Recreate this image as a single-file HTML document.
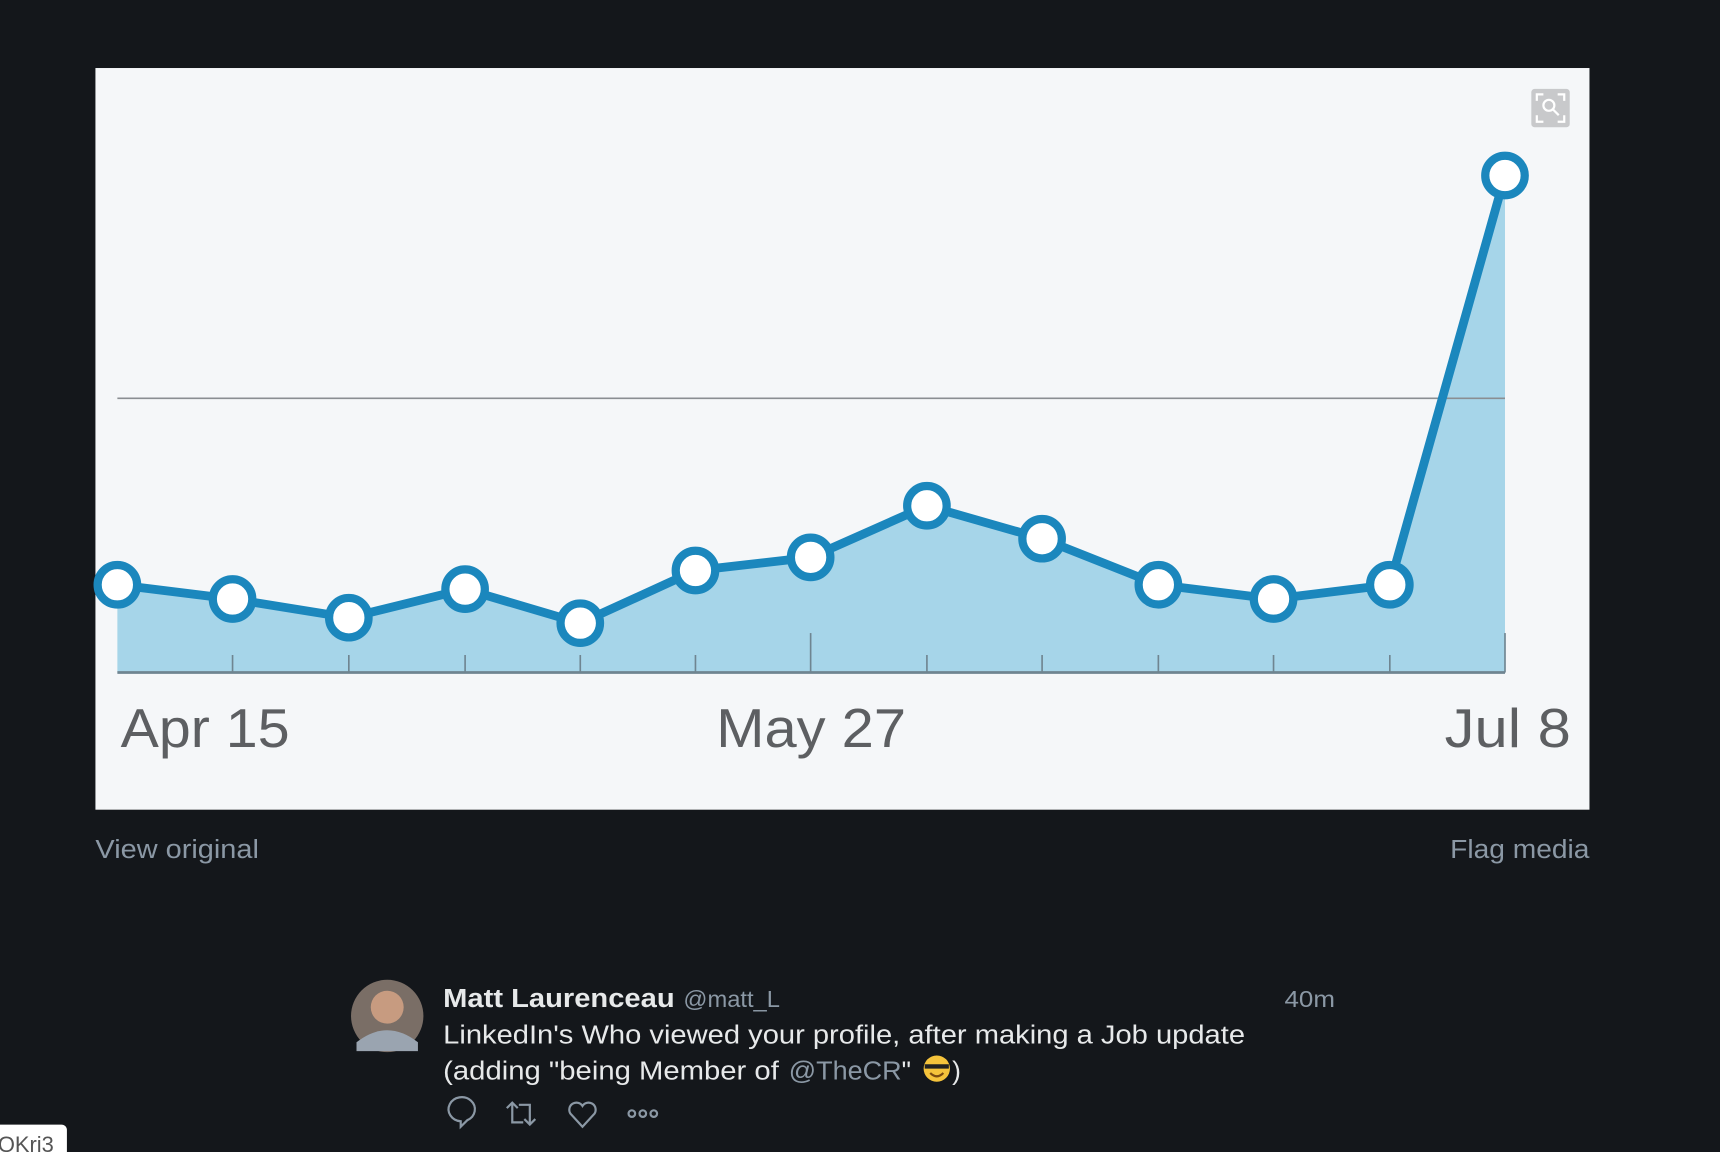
<!DOCTYPE html>
<html><head><meta charset="utf-8"><style>
html,body{margin:0;padding:0;background:#14171b;width:1720px;height:1152px;overflow:hidden}
svg{display:block}
</style></head><body>
<svg width="1720" height="1152" viewBox="0 0 1568 1050" preserveAspectRatio="none" xmlns="http://www.w3.org/2000/svg">
<rect x="0" y="0" width="1568" height="1050" fill="#14171b"/>
<rect x="87" y="62" width="1362" height="676" fill="#f5f7f9"/>
<polygon fill="#a6d5e9" points="107,613 107,533 212,546 318,563 424,537 529,568 634,520 739,508 845,461 950,491 1056,533 1161,546 1267,533 1372,160 1372,613"/>
<line x1="107" y1="363" x2="1372" y2="363" stroke="#8a8e92" stroke-width="1.5"/>
<g stroke="#6f8591" stroke-width="1.5">
<line x1="107" y1="613" x2="1372" y2="613" stroke-width="2.5"/>
<line x1="212" y1="597" x2="212" y2="613"/><line x1="318" y1="597" x2="318" y2="613"/>
<line x1="424" y1="597" x2="424" y2="613"/><line x1="529" y1="597" x2="529" y2="613"/>
<line x1="634" y1="597" x2="634" y2="613"/><line x1="739" y1="577" x2="739" y2="613"/>
<line x1="845" y1="597" x2="845" y2="613"/><line x1="950" y1="597" x2="950" y2="613"/>
<line x1="1056" y1="597" x2="1056" y2="613"/><line x1="1161" y1="597" x2="1161" y2="613"/>
<line x1="1267" y1="597" x2="1267" y2="613"/><line x1="1372" y1="577" x2="1372" y2="613"/>
</g>
<polyline fill="none" stroke="#1b87bd" stroke-width="8" stroke-linejoin="round" points="107,533 212,546 318,563 424,537 529,568 634,520 739,508 845,461 950,491 1056,533 1161,546 1267,533 1372,160"/>
<g fill="#fff" stroke="#1b87bd" stroke-width="7.5">
<circle cx="107" cy="533" r="18"/><circle cx="212" cy="546" r="18"/><circle cx="318" cy="563" r="18"/>
<circle cx="424" cy="537" r="18"/><circle cx="529" cy="568" r="18"/><circle cx="634" cy="520" r="18"/>
<circle cx="739" cy="508" r="18"/><circle cx="845" cy="461" r="18"/><circle cx="950" cy="491" r="18"/>
<circle cx="1056" cy="533" r="18"/><circle cx="1161" cy="546" r="18"/><circle cx="1267" cy="533" r="18"/>
<circle cx="1372" cy="160" r="18"/>
</g>
<g font-family="Liberation Sans, sans-serif" font-size="50" fill="#5d5f62">
<text x="110" y="681" textLength="154" lengthAdjust="spacingAndGlyphs">Apr 15</text>
<text x="653" y="681" textLength="173" lengthAdjust="spacingAndGlyphs">May 27</text>
<text x="1317" y="681" textLength="115" lengthAdjust="spacingAndGlyphs">Jul 8</text>
</g>
<rect x="1396" y="81" width="35" height="35" rx="3" fill="#c8c9cb"/>
<g stroke="#fff" stroke-width="2" fill="none">
<path d="M1401 92 v-6 h6 M1420 86 h6 v6 M1426 105 v6 h-6 M1407 111 h-6 v-6"/>
<circle cx="1412" cy="96" r="5"/><line x1="1416" y1="100" x2="1421" y2="105"/>
</g>
<g font-family="Liberation Sans, sans-serif" font-size="24" fill="#8b98a5">
<text x="87" y="782" textLength="149" lengthAdjust="spacingAndGlyphs">View original</text>
<text x="1322" y="782" textLength="127" lengthAdjust="spacingAndGlyphs">Flag media</text>
</g>
<circle cx="353" cy="926" r="33" fill="#7a6e66"/>
<circle cx="353" cy="918" r="15" fill="#c79b80"/>
<path d="M325 950 q28 -22 56 0 v8 h-56z" fill="#9aa4b0"/>
<g font-family="Liberation Sans, sans-serif" font-size="24">
<text x="404" y="918" fill="#e7e9ea" font-weight="bold" textLength="211" lengthAdjust="spacingAndGlyphs">Matt Laurenceau</text>
<text x="623" y="918" fill="#8b98a5" font-size="21" textLength="88" lengthAdjust="spacingAndGlyphs">@matt_L</text>
<text x="1171" y="918" fill="#8b98a5" font-size="21" textLength="46" lengthAdjust="spacingAndGlyphs">40m</text>
<text x="404" y="951" fill="#e7e9ea" textLength="731" lengthAdjust="spacingAndGlyphs">LinkedIn's Who viewed your profile, after making a Job update</text>
<text x="404" y="984" fill="#e7e9ea" textLength="306" lengthAdjust="spacingAndGlyphs">(adding "being Member of</text>
<text x="719" y="984" fill="#8b98a5" textLength="103" lengthAdjust="spacingAndGlyphs">@TheCR</text>
<text x="822" y="984" fill="#e7e9ea">"</text>
<text x="868" y="984" fill="#e7e9ea">)</text>
</g>
<circle cx="854" cy="974" r="12" fill="#f5c33b"/>
<path d="M843 970 h22 v4 h-22z" fill="#222"/>
<path d="M848 978 q6 6 12 0" stroke="#7a4a10" stroke-width="2" fill="none"/>
<g stroke="#8b98a5" stroke-width="2" fill="none">
<path d="M420 1027 l0 -5 a12 11 0 1 1 6 -1z"/>
<path d="M462 1010 l5 -5 l5 5 M467 1005 v18 h10 M488 1020 l-5 5 l-5 -5 M483 1025 v-18 h-10"/>
<path d="M531 1027 l-11 -12 a6 6 0 0 1 11 -7 a6 6 0 0 1 11 7z"/>
<circle cx="576" cy="1015" r="3"/><circle cx="586" cy="1015" r="3"/><circle cx="596" cy="1015" r="3"/>
</g>
<rect x="-6" y="1025" width="67" height="35" rx="5" fill="#fff"/>
<text x="-2" y="1050" font-family="Liberation Sans, sans-serif" font-size="20" fill="#555">QKri3</text>
</svg>
</body></html>
